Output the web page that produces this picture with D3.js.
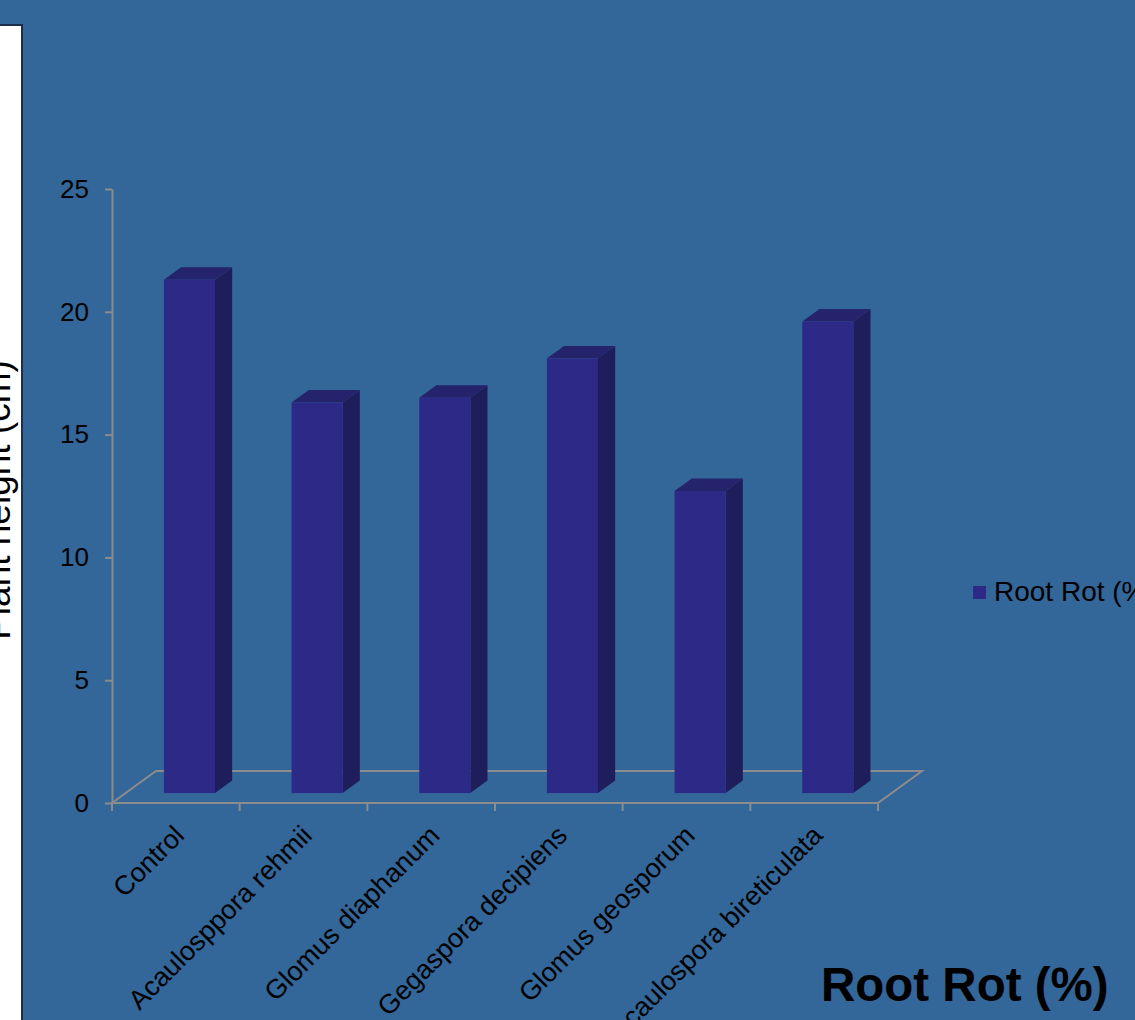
<!DOCTYPE html>
<html>
<head>
<meta charset="utf-8">
<script src="https://cdn.jsdelivr.net/npm/d3@7"></script>
<style>
  html, body { margin: 0; padding: 0; background: #336699; overflow: hidden; }
  svg { display: block; font-family: "Liberation Sans", Arial, sans-serif; }
</style>
</head>
<body>
<svg id="chart" width="1135" height="1020"></svg>
<script>
const categories = ["Control", "Acaulosppora rehmii", "Glomus diaphanum", "Gegaspora decipiens", "Glomus geosporum", "Acaulospora bireticulata"];
const seriesName = "Root Rot (%)";
const values = [20.9, 15.9, 16.1, 17.7, 12.3, 19.2];
const yTicks = [0, 5, 10, 15, 20, 25];
const chartTitle = "Root Rot (%)";
const sideTitle = "Plant height (cm)";

const svg = d3.select("#chart");
const W = 1135, H = 1020;

svg.append("rect").attr("width", W).attr("height", H).attr("fill", "#336699");

// left white panel (part of neighbouring chart)
svg.append("rect").attr("x", -5).attr("y", 25).attr("width", 27).attr("height", H)
  .attr("fill", "#ffffff").attr("stroke", "#1e2d4a").attr("stroke-width", 2);
svg.append("text").attr("transform", "translate(10,500) rotate(-90)")
  .attr("text-anchor", "middle").attr("font-size", 37).attr("fill", "#000").text(sideTitle);

const y = d3.scaleLinear().domain([0, 25]).range([803, 189]);
const x = d3.scaleBand().domain(categories).range([112, 878]).paddingInner(0.6).paddingOuter(0.3);
const step = x.step(), bw = x.bandwidth();
const floorDX = 44, floorDY = -32;
const f0 = 0.31, f1 = 0.70;
const ox = f0 * floorDX, oy = f0 * floorDY;
const sdx = (f1 - f0) * floorDX, sdy = (f1 - f0) * floorDY;
const axisColor = "#8c8c8c";

// floor
const fx0 = x.range()[0], fx1 = x.range()[1], fy = y(0);
svg.append("path")
  .attr("d", `M${fx0},${fy} L${fx1},${fy} L${fx1 + floorDX},${fy + floorDY} L${fx0 + floorDX},${fy + floorDY} Z`)
  .attr("fill", "none").attr("stroke", axisColor).attr("stroke-width", 2);

// y axis
const yAxis = d3.axisLeft(y).tickValues(yTicks).tickSize(7).tickPadding(16).tickSizeOuter(0);
const gy = svg.append("g").attr("transform", `translate(${fx0},0)`).call(yAxis);
gy.select(".domain").attr("stroke", axisColor).attr("stroke-width", 2);
gy.selectAll(".tick line").attr("stroke", axisColor).attr("stroke-width", 2);
gy.selectAll(".tick text").attr("font-size", 26).attr("fill", "#000").attr("font-family", "Liberation Sans, Arial, sans-serif");

// x ticks at band boundaries
const bounds = categories.map(c => x(c) - x.paddingInner() / 2 * step).concat([fx1]);
svg.append("g").selectAll("line").data(bounds).join("line")
  .attr("x1", d => d).attr("x2", d => d).attr("y1", fy).attr("y2", fy + 8)
  .attr("stroke", axisColor).attr("stroke-width", 2);

// bars
const bars = svg.append("g");
categories.forEach((c, i) => {
  const v = values[i];
  const L = x(c) + ox, R = L + bw, T = y(v) + oy, B = y(0) + oy;
  bars.append("path")
    .attr("d", `M${R},${T} L${R + sdx},${T + sdy} L${R + sdx},${B + sdy} L${R},${B} Z`)
    .attr("fill", "#1f1e5c");
  bars.append("path")
    .attr("d", `M${L},${T} L${L + sdx},${T + sdy} L${R + sdx},${T + sdy} L${R},${T} Z`)
    .attr("fill", "#24236c");
  bars.append("rect").attr("x", L).attr("y", T).attr("width", bw).attr("height", B - T)
    .attr("fill", "#2c2a86");
});

// category labels
svg.append("g").selectAll("text").data(categories).join("text")
  .attr("transform", c => `translate(${x(c) + bw / 2 + 10},837) rotate(-45)`)
  .attr("text-anchor", "end").attr("font-size", 27).attr("fill", "#000")
  .text(d => d);

// legend
svg.append("rect").attr("x", 973).attr("y", 586).attr("width", 13).attr("height", 13).attr("fill", "#2c2a86");
svg.append("text").attr("x", 994).attr("y", 601).attr("font-size", 28).attr("fill", "#000").text(seriesName);

// title
svg.append("text").attr("x", 821).attr("y", 1001).attr("font-size", 47.5).attr("font-weight", "bold")
  .attr("fill", "#000").text(chartTitle);
</script>
</body>
</html>
